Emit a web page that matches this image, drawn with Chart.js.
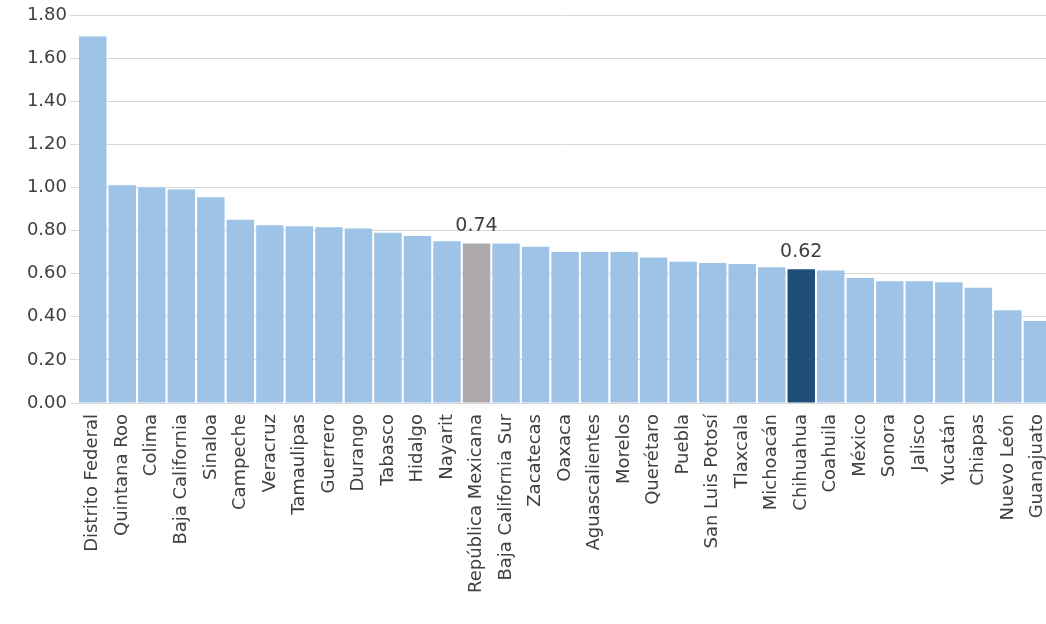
<!DOCTYPE html>
<html>
<head>
<meta charset="utf-8">
<script src="https://cdn.jsdelivr.net/npm/chart.js@4/dist/chart.umd.min.js"></script>
<style>
  html, body { margin: 0; padding: 0; background: #fff; }
  body { width: 1046px; height: 624px; overflow: hidden; }
  #wrap { width: 1062px; height: 624px; }
</style>
</head>
<body>
<div id="wrap"><canvas id="chart"></canvas></div>
<script>
// Data
const states = ['Distrito Federal', 'Quintana Roo', 'Colima', 'Baja California', 'Sinaloa', 'Campeche',
  'Veracruz', 'Tamaulipas', 'Guerrero', 'Durango', 'Tabasco', 'Hidalgo', 'Nayarit', 'República Mexicana',
  'Baja California Sur', 'Zacatecas', 'Oaxaca', 'Aguascalientes', 'Morelos', 'Querétaro', 'Puebla',
  'San Luis Potosí', 'Tlaxcala', 'Michoacán', 'Chihuahua', 'Coahuila', 'México', 'Sonora', 'Jalisco',
  'Yucatán', 'Chiapas', 'Nuevo León', 'Guanajuato'];
const values = [1.70, 1.01, 1.00, 0.99, 0.955, 0.85, 0.825, 0.82, 0.815, 0.81, 0.79, 0.775, 0.75, 0.74,
  0.74, 0.725, 0.70, 0.70, 0.70, 0.675, 0.655, 0.65, 0.645, 0.63, 0.62, 0.615, 0.58, 0.565, 0.565,
  0.56, 0.535, 0.43, 0.38];
const labelled = ['República Mexicana', 'Chihuahua'];

const colors = states.map(s => s === 'República Mexicana' ? '#aeaaaa' : s === 'Chihuahua' ? '#1f4e79' : '#9dc3e6');

// Value labels above selected bars
const valueLabels = {
  id: 'valueLabels',
  afterDatasetsDraw(chart) {
    const c = chart.ctx;
    const meta = chart.getDatasetMeta(0);
    c.save();
    c.font = '19px "DejaVu Sans"';
    c.fillStyle = '#404040';
    c.textAlign = 'center';
    c.textBaseline = 'bottom';
    states.forEach((s, i) => {
      if (!labelled.includes(s)) return;
      const bar = meta.data[i];
      c.fillText(values[i].toFixed(2), bar.x, bar.y - 8);
    });
    c.restore();
  }
};

const ctx = document.getElementById('chart').getContext('2d');
new Chart(ctx, {
  type: 'bar',
  data: {
    labels: states,
    datasets: [{ data: values, backgroundColor: colors, barPercentage: 0.93, categoryPercentage: 1 }]
  },
  plugins: [valueLabels],
  options: {
    responsive: true,
    maintainAspectRatio: false,
    animation: false,
    layout: { padding: { top: 15, right: 0, left: 0 } },
    plugins: { legend: { display: false }, tooltip: { enabled: false } },
    scales: {
      x: {
        grid: { display: false },
        border: { color: '#d9d9d9' },
        afterFit: s => { s.height = 221; },
        ticks: { color: '#404040', font: { family: 'DejaVu Sans', size: 18 }, maxRotation: 90, minRotation: 90, autoSkip: false }
      },
      y: {
        min: 0, max: 1.8,
        grid: { color: '#d9d9d9' },
        border: { display: false },
        afterFit: s => { s.width = 78; },
        ticks: { stepSize: 0.2, color: '#404040', font: { family: 'DejaVu Sans', size: 18 }, callback: v => v.toFixed(2) }
      }
    }
  }
});
</script>
</body>
</html>
